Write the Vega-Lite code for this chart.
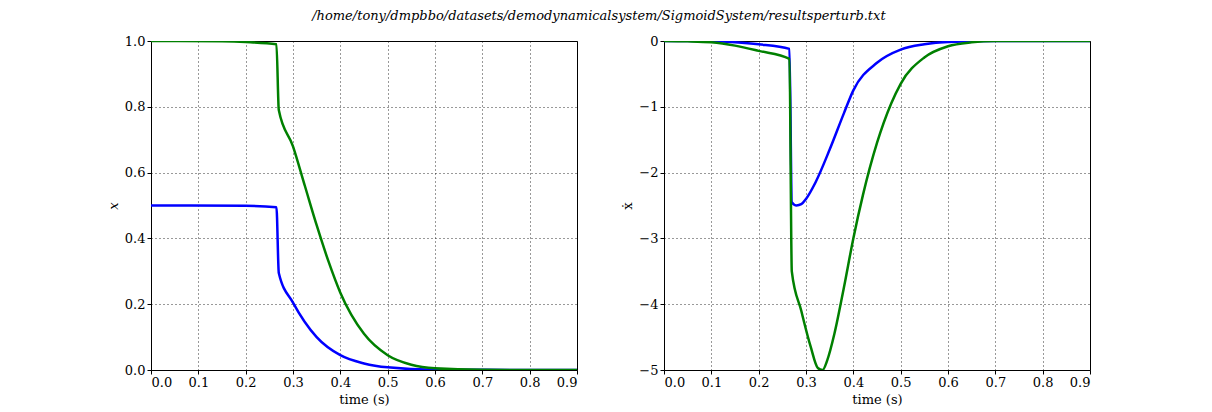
{
  "$schema": "https://vega.github.io/schema/vega-lite/v6.json",
  "title": {"text": "/home/tony/dmpbbo/datasets/demodynamicalsystem/SigmoidSystem/resultsperturb.txt", "font": "DejaVu Serif", "fontSize": 13, "fontWeight": "normal", "fontStyle": "italic", "anchor": "middle", "offset": 12},
  "config": {
    "font": "DejaVu Serif",
    "view": {"stroke": "black", "strokeWidth": 1},
    "axis": {"grid": true, "gridColor": "black", "gridDash": [1, 3], "gridOpacity": 0.8, "domain": false, "tickColor": "black", "tickSize": 4, "labelFontSize": 13, "labelColor": "black", "titleFontSize": 13, "titleFontWeight": "normal", "titleColor": "black", "labelFont": "DejaVu Serif", "titleFont": "DejaVu Serif"}
  },
  "padding": {"left": 106, "top": 9, "right": 100, "bottom": 5},
  "spacing": 43,
  "datasets": {
    "pts": [
      {"p": "x", "s": "b", "t": 0.0, "v": 0.5}, {"p": "x", "s": "b", "t": 0.2, "v": 0.499}, {"p": "x", "s": "b", "t": 0.265, "v": 0.495},
      {"p": "x", "s": "b", "t": 0.27, "v": 0.295}, {"p": "x", "s": "b", "t": 0.3, "v": 0.205}, {"p": "x", "s": "b", "t": 0.35, "v": 0.1},
      {"p": "x", "s": "b", "t": 0.4, "v": 0.045}, {"p": "x", "s": "b", "t": 0.45, "v": 0.02}, {"p": "x", "s": "b", "t": 0.5, "v": 0.008},
      {"p": "x", "s": "b", "t": 0.6, "v": 0.001}, {"p": "x", "s": "b", "t": 0.9, "v": 0.0},
      {"p": "x", "s": "g", "t": 0.0, "v": 1.0}, {"p": "x", "s": "g", "t": 0.15, "v": 0.999}, {"p": "x", "s": "g", "t": 0.2, "v": 0.997}, {"p": "x", "s": "g", "t": 0.265, "v": 0.99},
      {"p": "x", "s": "g", "t": 0.27, "v": 0.79}, {"p": "x", "s": "g", "t": 0.3, "v": 0.68}, {"p": "x", "s": "g", "t": 0.325, "v": 0.56}, {"p": "x", "s": "g", "t": 0.35, "v": 0.44},
      {"p": "x", "s": "g", "t": 0.375, "v": 0.33}, {"p": "x", "s": "g", "t": 0.4, "v": 0.235}, {"p": "x", "s": "g", "t": 0.45, "v": 0.11},
      {"p": "x", "s": "g", "t": 0.5, "v": 0.045}, {"p": "x", "s": "g", "t": 0.55, "v": 0.016}, {"p": "x", "s": "g", "t": 0.6, "v": 0.005},
      {"p": "x", "s": "g", "t": 0.7, "v": 0.0005}, {"p": "x", "s": "g", "t": 0.9, "v": 0.0},
      {"p": "xd", "s": "b", "t": 0.0, "v": 0.0}, {"p": "xd", "s": "b", "t": 0.1, "v": -0.005}, {"p": "xd", "s": "b", "t": 0.15, "v": -0.02}, {"p": "xd", "s": "b", "t": 0.2, "v": -0.05},
      {"p": "xd", "s": "b", "t": 0.265, "v": -0.12}, {"p": "xd", "s": "b", "t": 0.27, "v": -2.45}, {"p": "xd", "s": "b", "t": 0.28, "v": -2.5},
      {"p": "xd", "s": "b", "t": 0.29, "v": -2.48}, {"p": "xd", "s": "b", "t": 0.3, "v": -2.4}, {"p": "xd", "s": "b", "t": 0.32, "v": -2.15},
      {"p": "xd", "s": "b", "t": 0.35, "v": -1.65}, {"p": "xd", "s": "b", "t": 0.38, "v": -1.1}, {"p": "xd", "s": "b", "t": 0.4, "v": -0.75},
      {"p": "xd", "s": "b", "t": 0.45, "v": -0.33}, {"p": "xd", "s": "b", "t": 0.5, "v": -0.13}, {"p": "xd", "s": "b", "t": 0.55, "v": -0.05},
      {"p": "xd", "s": "b", "t": 0.6, "v": -0.015}, {"p": "xd", "s": "b", "t": 0.7, "v": 0.0}, {"p": "xd", "s": "b", "t": 0.9, "v": 0.0},
      {"p": "xd", "s": "g", "t": 0.0, "v": 0.0}, {"p": "xd", "s": "g", "t": 0.05, "v": -0.005}, {"p": "xd", "s": "g", "t": 0.1, "v": -0.02}, {"p": "xd", "s": "g", "t": 0.15, "v": -0.07},
      {"p": "xd", "s": "g", "t": 0.2, "v": -0.15}, {"p": "xd", "s": "g", "t": 0.265, "v": -0.27}, {"p": "xd", "s": "g", "t": 0.27, "v": -3.5},
      {"p": "xd", "s": "g", "t": 0.29, "v": -4.1}, {"p": "xd", "s": "g", "t": 0.31, "v": -4.65}, {"p": "xd", "s": "g", "t": 0.325, "v": -4.97},
      {"p": "xd", "s": "g", "t": 0.335, "v": -5.0}, {"p": "xd", "s": "g", "t": 0.345, "v": -4.85}, {"p": "xd", "s": "g", "t": 0.36, "v": -4.45},
      {"p": "xd", "s": "g", "t": 0.38, "v": -3.75}, {"p": "xd", "s": "g", "t": 0.4, "v": -3.0}, {"p": "xd", "s": "g", "t": 0.42, "v": -2.35},
      {"p": "xd", "s": "g", "t": 0.45, "v": -1.55}, {"p": "xd", "s": "g", "t": 0.48, "v": -0.95}, {"p": "xd", "s": "g", "t": 0.5, "v": -0.65},
      {"p": "xd", "s": "g", "t": 0.55, "v": -0.25}, {"p": "xd", "s": "g", "t": 0.6, "v": -0.08}, {"p": "xd", "s": "g", "t": 0.65, "v": -0.02},
      {"p": "xd", "s": "g", "t": 0.7, "v": 0.0}, {"p": "xd", "s": "g", "t": 0.9, "v": 0.0}
    ]
  },
  "hconcat": [
    {
      "width": 426, "height": 329,
      "data": {"name": "pts"},
      "transform": [{"filter": "datum.p == 'x'"}],
      "mark": {"type": "line", "strokeWidth": 2.5, "clip": true, "interpolate": "monotone"},
      "encoding": {
        "x": {"field": "t", "type": "quantitative", "title": "time (s)", "scale": {"domain": [0, 0.9], "nice": false}, "axis": {"values": [0, 0.1, 0.2, 0.3, 0.4, 0.5, 0.6, 0.7, 0.8, 0.9], "format": ".1f"}},
        "y": {"field": "v", "type": "quantitative", "title": "x", "scale": {"domain": [0, 1], "nice": false}, "axis": {"values": [0, 0.2, 0.4, 0.6, 0.8, 1.0], "format": ".1f", "titleFontStyle": "italic"}},
        "color": {"field": "s", "type": "nominal", "scale": {"domain": ["b", "g"], "range": ["#0000ff", "#008000"]}, "legend": null}
      }
    },
    {
      "width": 426, "height": 329,
      "data": {"name": "pts"},
      "transform": [{"filter": "datum.p == 'xd'"}],
      "mark": {"type": "line", "strokeWidth": 2.5, "clip": true, "interpolate": "monotone"},
      "encoding": {
        "x": {"field": "t", "type": "quantitative", "title": "time (s)", "scale": {"domain": [0, 0.9], "nice": false}, "axis": {"values": [0, 0.1, 0.2, 0.3, 0.4, 0.5, 0.6, 0.7, 0.8, 0.9], "format": ".1f"}},
        "y": {"field": "v", "type": "quantitative", "title": "ẋ", "scale": {"domain": [-5, 0], "nice": false}, "axis": {"values": [-5, -4, -3, -2, -1, 0], "format": "d"}},
        "color": {"field": "s", "type": "nominal", "scale": {"domain": ["b", "g"], "range": ["#0000ff", "#008000"]}, "legend": null}
      }
    }
  ]
}
